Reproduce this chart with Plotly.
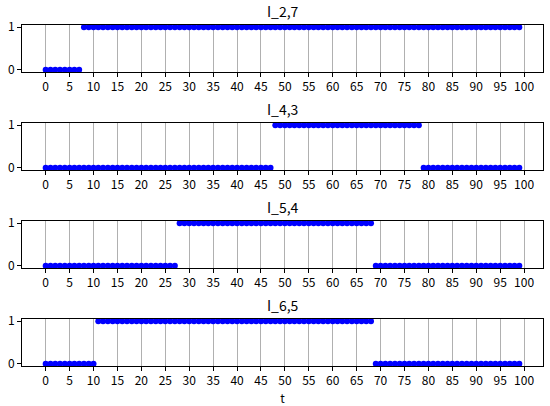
import plotly.graph_objects as go
from plotly.subplots import make_subplots

t = list(range(100))

I_2_7 = [
    0, 0, 0, 0, 0, 0, 0, 0, 1, 1, 1, 1, 1, 1, 1, 1, 1, 1, 1, 1,
    1, 1, 1, 1, 1, 1, 1, 1, 1, 1, 1, 1, 1, 1, 1, 1, 1, 1, 1, 1,
    1, 1, 1, 1, 1, 1, 1, 1, 1, 1, 1, 1, 1, 1, 1, 1, 1, 1, 1, 1,
    1, 1, 1, 1, 1, 1, 1, 1, 1, 1, 1, 1, 1, 1, 1, 1, 1, 1, 1, 1,
    1, 1, 1, 1, 1, 1, 1, 1, 1, 1, 1, 1, 1, 1, 1, 1, 1, 1, 1, 1,
]
I_4_3 = [
    0, 0, 0, 0, 0, 0, 0, 0, 0, 0, 0, 0, 0, 0, 0, 0, 0, 0, 0, 0,
    0, 0, 0, 0, 0, 0, 0, 0, 0, 0, 0, 0, 0, 0, 0, 0, 0, 0, 0, 0,
    0, 0, 0, 0, 0, 0, 0, 0, 1, 1, 1, 1, 1, 1, 1, 1, 1, 1, 1, 1,
    1, 1, 1, 1, 1, 1, 1, 1, 1, 1, 1, 1, 1, 1, 1, 1, 1, 1, 1, 0,
    0, 0, 0, 0, 0, 0, 0, 0, 0, 0, 0, 0, 0, 0, 0, 0, 0, 0, 0, 0,
]
I_5_4 = [
    0, 0, 0, 0, 0, 0, 0, 0, 0, 0, 0, 0, 0, 0, 0, 0, 0, 0, 0, 0,
    0, 0, 0, 0, 0, 0, 0, 0, 1, 1, 1, 1, 1, 1, 1, 1, 1, 1, 1, 1,
    1, 1, 1, 1, 1, 1, 1, 1, 1, 1, 1, 1, 1, 1, 1, 1, 1, 1, 1, 1,
    1, 1, 1, 1, 1, 1, 1, 1, 1, 0, 0, 0, 0, 0, 0, 0, 0, 0, 0, 0,
    0, 0, 0, 0, 0, 0, 0, 0, 0, 0, 0, 0, 0, 0, 0, 0, 0, 0, 0, 0,
]
I_6_5 = [
    0, 0, 0, 0, 0, 0, 0, 0, 0, 0, 0, 1, 1, 1, 1, 1, 1, 1, 1, 1,
    1, 1, 1, 1, 1, 1, 1, 1, 1, 1, 1, 1, 1, 1, 1, 1, 1, 1, 1, 1,
    1, 1, 1, 1, 1, 1, 1, 1, 1, 1, 1, 1, 1, 1, 1, 1, 1, 1, 1, 1,
    1, 1, 1, 1, 1, 1, 1, 1, 1, 0, 0, 0, 0, 0, 0, 0, 0, 0, 0, 0,
    0, 0, 0, 0, 0, 0, 0, 0, 0, 0, 0, 0, 0, 0, 0, 0, 0, 0, 0, 0,
]

titles = ['I_2,7', 'I_4,3', 'I_5,4', 'I_6,5']
series = [I_2_7, I_4_3, I_5_4, I_6_5]
x_ticks = list(range(0, 101, 5))

fig = make_subplots(rows=4, cols=1, subplot_titles=titles, vertical_spacing=0.1496)

for i, y in enumerate(series):
    fig.add_trace(go.Scatter(
        x=t, y=y, mode='markers',
        marker=dict(color='#0000ff', size=6, line=dict(width=0)),
        showlegend=False,
    ), row=i + 1, col=1)
    fig.update_xaxes(
        range=[-4.95, 103.95], tickvals=x_ticks,
        showgrid=True, gridcolor='#b0b0b0', gridwidth=1,
        showline=True, linecolor='black', linewidth=1, mirror=True,
        ticks='outside', ticklen=4, tickcolor='black',
        zeroline=False, automargin=False, row=i + 1, col=1,
    )
    fig.update_yaxes(
        range=[-0.05, 1.05], tickvals=[0, 1],
        showgrid=False,
        showline=True, linecolor='black', linewidth=1, mirror=True,
        ticks='outside', ticklen=4, tickcolor='black',
        zeroline=False, automargin=False, row=i + 1, col=1,
    )

fig.update_xaxes(title_text='t', title_font_size=12, row=4, col=1)

for ann in fig.layout.annotations:
    ann.font = dict(size=14, color='black')
    ann.yshift = 2

fig.update_layout(
    width=550, height=406,
    margin=dict(l=22, r=7, t=25, b=40),
    plot_bgcolor='white', paper_bgcolor='white',
    font=dict(family='Noto Sans CJK JP, Noto Sans, sans-serif', size=12, color='black'),
)

# drop the browser's default body margin so the figure sits at the window edge
fig.write_html('out.html', config={'displayModeBar': False},
               post_script="document.body.style.margin='0';")
